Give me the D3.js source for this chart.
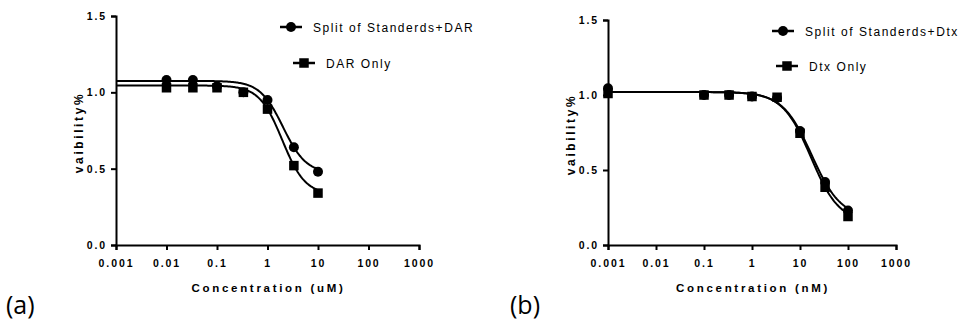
<!DOCTYPE html>
<html>
<head>
<meta charset="utf-8">
<script src="https://cdn.jsdelivr.net/npm/d3@7"></script>
<style>
  body { margin: 0; background: #fff; }
  svg { display: block; }
  .tick text { font-family: "Liberation Sans", Arial, sans-serif; font-weight: bold; font-size: 10.5px; letter-spacing: 1.9px; fill: #000; }
</style>
</head>
<body>
<div id="chart"></div>
<script>
// panel (a): concentration in uM
const concA = [0.01, 0.0333, 0.1, 0.333, 1, 3.33, 10];
const splitA = [1.08, 1.08, 1.04, 1.0, 0.95, 0.64, 0.48];
const onlyA = [1.03, 1.03, 1.03, 1.0, 0.89, 0.52, 0.34];
// fitted sigmoid: top, bottom, EC50, hill
const fitSplitA = [1.075, 0.47, 2.03, 1.9];
const fitOnlyA = [1.045, 0.33, 1.96, 1.91];

// panel (b): concentration in nM
const concB = [0.001, 0.1, 0.333, 1, 3.33, 10, 33.3, 100];
const splitB = [1.045, 1.0, 1.0, 0.99, 0.98, 0.76, 0.42, 0.23];
const onlyB = [1.01, 1.0, 1.0, 0.99, 0.985, 0.745, 0.385, 0.19];
const fitSplitB = [1.02, 0.18, 17.5, 1.43];
const fitOnlyB = [1.02, 0.15, 16.9, 1.47];

const xTicks = [0.001, 0.01, 0.1, 1, 10, 100, 1000];
const xTickLabels = ["0.001", "0.01", "0.1", "1", "10", "100", "1000"];
const yTicks = [0, 0.5, 1.0, 1.5];
const yTickLabels = ["0.0", "0.5", "1.0", "1.5"];

const fontSans = '"Liberation Sans", Arial, sans-serif';

const svg = d3.select('#chart').append('svg')
  .attr('width', 963)
  .attr('height', 321);

function sigmoid(p, x) {
  return p[1] + (p[0] - p[1]) / (1 + Math.pow(x / p[2], p[3]));
}

function drawPanel(cfg) {
  const x = d3.scaleLog().domain([0.001, 1000]).range([cfg.left, cfg.right]);
  const y = d3.scaleLinear().domain([0, 1.5]).range([cfg.bottom, cfg.top]);
  const g = svg.append('g');

  // axes
  g.append('g')
    .attr('transform', `translate(0,${cfg.bottom})`)
    .call(d3.axisBottom(x).tickValues(xTicks).tickFormat((d, i) => xTickLabels[i]).tickSizeOuter(0).tickSize(5).tickPadding(10))
    .call(a => a.select('.domain').attr('stroke', '#000').attr('stroke-width', 2))
    .call(a => a.selectAll('.tick line').attr('stroke', '#000').attr('stroke-width', 2));

  g.append('g')
    .attr('transform', `translate(${cfg.left},0)`)
    .call(d3.axisLeft(y).tickValues(yTicks).tickFormat((d, i) => yTickLabels[i]).tickSizeOuter(0).tickSize(5).tickPadding(4))
    .call(a => a.select('.domain').attr('stroke', '#000').attr('stroke-width', 2))
    .call(a => a.selectAll('.tick line').attr('stroke', '#000').attr('stroke-width', 2));

  // fitted curves
  const line = d3.line().x(d => x(d[0])).y(d => y(d[1]));
  const steps = d3.range(0, 201).map(i => Math.pow(10, -3 + i * (Math.log10(cfg.xEnd) + 3) / 200));
  [cfg.fitOnly, cfg.fitSplit].forEach(p => {
    g.append('path')
      .datum(steps.map(c => [c, sigmoid(p, c)]))
      .attr('fill', 'none')
      .attr('stroke', '#000')
      .attr('stroke-width', 2)
      .attr('d', line);
  });

  // markers
  g.selectAll('.sq').data(cfg.conc.map((c, i) => [c, cfg.only[i]]))
    .enter().append('rect')
    .attr('x', d => x(d[0]) - 4.75).attr('y', d => y(d[1]) - 4.75)
    .attr('width', 9.5).attr('height', 9.5).attr('fill', '#000');
  g.selectAll('.dot').data(cfg.conc.map((c, i) => [c, cfg.split[i]]))
    .enter().append('circle')
    .attr('cx', d => x(d[0])).attr('cy', d => y(d[1]))
    .attr('r', 5).attr('fill', '#000');

  // axis titles
  g.append('text')
    .attr('x', (cfg.left + cfg.right) / 2 + 1).attr('y', 292)
    .attr('text-anchor', 'middle')
    .style('font-family', fontSans).style('font-weight', 'bold')
    .style('font-size', '11.5px').style('letter-spacing', '2.7px')
    .text(cfg.xTitle);
  g.append('text')
    .attr('transform', `translate(${cfg.left - 33},${(cfg.top + cfg.bottom) / 2 + 2}) rotate(-90)`)
    .attr('text-anchor', 'middle')
    .style('font-family', fontSans).style('font-weight', 'bold')
    .style('font-size', '12px').style('letter-spacing', '2.6px')
    .text('vaibility%');

  // legend
  const lg = g.append('g');
  lg.append('line').attr('x1', cfg.leg[0]).attr('x2', cfg.leg[0] + 22)
    .attr('y1', cfg.leg[1]).attr('y2', cfg.leg[1]).attr('stroke', '#000').attr('stroke-width', 2.5);
  lg.append('circle').attr('cx', cfg.leg[0] + 11).attr('cy', cfg.leg[1]).attr('r', 5).attr('fill', '#000');
  lg.append('text').attr('x', cfg.leg[0] + 33).attr('y', cfg.leg[1] + 4.5)
    .style('font-family', fontSans).style('font-size', '12px').style('letter-spacing', '1.55px')
    .text(cfg.legSplit);
  lg.append('line').attr('x1', cfg.leg[2]).attr('x2', cfg.leg[2] + 22)
    .attr('y1', cfg.leg[3]).attr('y2', cfg.leg[3]).attr('stroke', '#000').attr('stroke-width', 2.5);
  lg.append('rect').attr('x', cfg.leg[2] + 6.25).attr('y', cfg.leg[3] - 4.75).attr('width', 9.5).attr('height', 9.5).attr('fill', '#000');
  lg.append('text').attr('x', cfg.leg[2] + 33).attr('y', cfg.leg[3] + 4.5)
    .style('font-family', fontSans).style('font-size', '12px').style('letter-spacing', '1.55px')
    .text(cfg.legOnly);

  // panel letter
  g.append('text').attr('x', cfg.letterX).attr('y', 314)
    .style('font-family', '"Open Sans", sans-serif').style('font-size', '25px')
    .text(cfg.letter);
}

drawPanel({
  left: 116, right: 419, top: 16, bottom: 245, xEnd: 10,
  conc: concA, split: splitA, only: onlyA, fitSplit: fitSplitA, fitOnly: fitOnlyA,
  xTitle: 'Concentration (uM)', legSplit: 'Split of Standerds+DAR', legOnly: 'DAR Only',
  leg: [280, 27, 293, 63], letter: '(a)', letterX: 6
});

drawPanel({
  left: 608, right: 896, top: 20, bottom: 245, xEnd: 100,
  conc: concB, split: splitB, only: onlyB, fitSplit: fitSplitB, fitOnly: fitOnlyB,
  xTitle: 'Concentration (nM)', legSplit: 'Split of Standerds+Dtx', legOnly: 'Dtx Only',
  leg: [772, 31, 776, 66], letter: '(b)', letterX: 510
});
</script>
</body>
</html>
